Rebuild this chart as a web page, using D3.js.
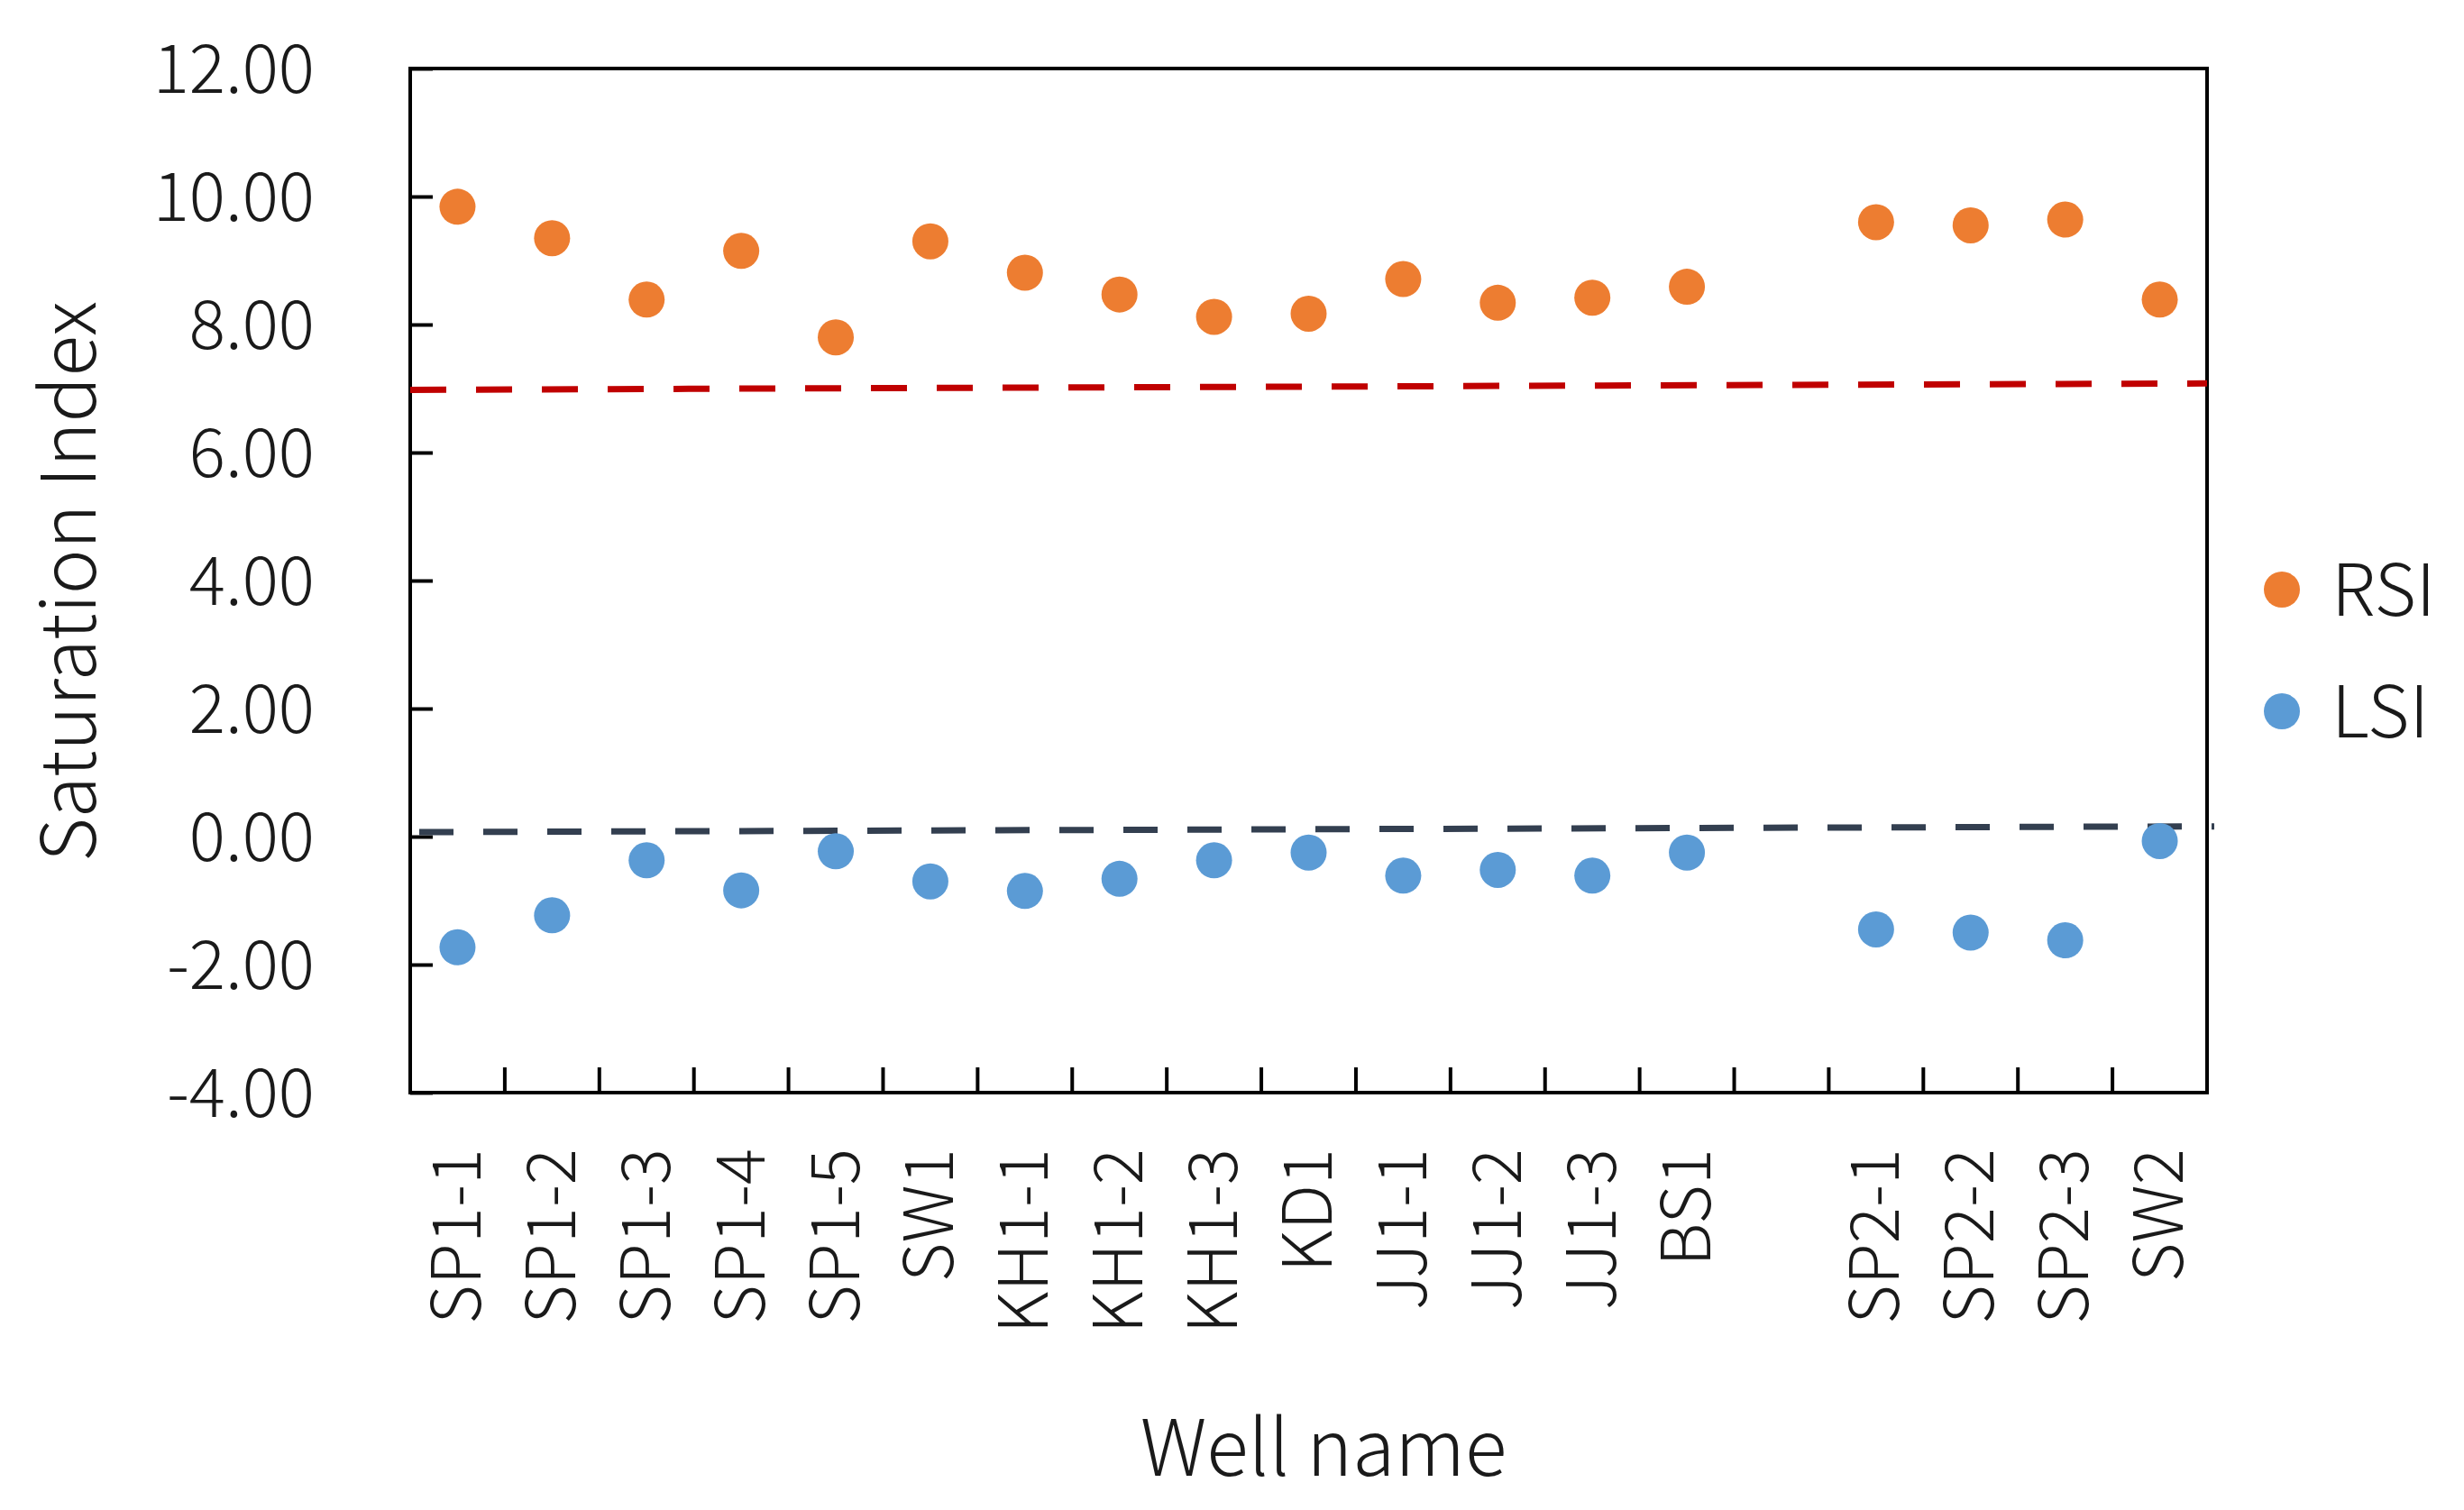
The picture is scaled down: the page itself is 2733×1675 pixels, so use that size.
<!DOCTYPE html>
<html><head><meta charset="utf-8">
<script src="https://cdn.jsdelivr.net/npm/d3@7"></script>
<style>html,body{margin:0;padding:0;background:#fff;}svg{display:block;}</style>
</head><body>
<script>
const categories = ["SP1-1","SP1-2","SP1-3","SP1-4","SP1-5","SW1","KH1-1","KH1-2","KH1-3","KD1","JJ1-1","JJ1-2","JJ1-3","BS1","","SP2-1","SP2-2","SP2-3","SW2"];
const rsi = [9.84,9.35,8.39,9.15,7.80,9.30,8.81,8.47,8.12,8.17,8.71,8.34,8.42,8.59,null,9.60,9.55,9.64,8.39];
const lsi = [-1.73,-1.23,-0.37,-0.84,-0.23,-0.70,-0.85,-0.66,-0.37,-0.25,-0.61,-0.52,-0.61,-0.25,null,-1.45,-1.50,-1.62,-0.07];
const yTicks = [-4,-2,0,2,4,6,8,10,12];
const rsiRef = [6.98, 7.08];   // left, right
const lsiRef = [0.07, 0.16];
const seriesNames = ["RSI","LSI"];
const colors = ["#ED7D31","#5B9BD5"];

const W = 2733, H = 1675;
const L = 455, R = 2448, T = 76, B = 1212;
const font = "'Noto Sans CJK KR','Noto Sans',sans-serif";
const fw = 300;

const svg = d3.select("body").append("svg").attr("width", W).attr("height", H)
  .style("font-family", font).style("font-weight", fw);

const x = d3.scaleBand().domain(categories).range([L, R]).paddingInner(0).paddingOuter(0);
const y = d3.scaleLinear().domain([-4, 12]).range([B, T]);

// plot frame
svg.append("rect").attr("x", L).attr("y", T).attr("width", R - L).attr("height", B - T)
  .attr("fill", "none").attr("stroke", "#000").attr("stroke-width", 4);

// y axis ticks (inward)
const yAxis = d3.axisRight(y).tickValues(yTicks).tickSize(25).tickFormat("");
const yg = svg.append("g").attr("transform", `translate(${L},0)`).call(yAxis);
yg.select(".domain").remove();
yg.selectAll("line").attr("stroke", "#000").attr("stroke-width", 4);

// y tick labels
svg.append("g").selectAll("text").data(yTicks).join("text")
  .attr("x", 349).attr("y", d => y(d)).attr("dy", "0.36em")
  .attr("text-anchor", "end").attr("font-size", 75).attr("fill", "#1a1a1a")
  .text(d => d.toFixed(2));

// x ticks at band boundaries (inward)
const bounds = categories.slice(1).map(c => x(c));
svg.append("g").selectAll("line").data(bounds).join("line")
  .attr("x1", d => d).attr("x2", d => d).attr("y1", B).attr("y2", B - 28)
  .attr("stroke", "#000").attr("stroke-width", 4);

// x labels
svg.append("g").selectAll("text").data(categories.filter(c => c !== "")).join("text")
  .attr("transform", d => `translate(${x(d) + x.bandwidth() / 2},1274) rotate(-90)`)
  .attr("dy", "0.34em").attr("text-anchor", "end").attr("font-size", 75).attr("fill", "#1a1a1a")
  .text(d => d);

// reference lines
svg.append("line").attr("x1", L).attr("x2", R).attr("y1", y(rsiRef[0])).attr("y2", y(rsiRef[1]))
  .attr("stroke", "#C00000").attr("stroke-width", 7).attr("stroke-dasharray", "40,33");
svg.append("line").attr("x1", L + 10).attr("x2", R + 8).attr("y1", y(lsiRef[0])).attr("y2", y(lsiRef[1]))
  .attr("stroke", "#333F50").attr("stroke-width", 7).attr("stroke-dasharray", "38,33");

// points
[rsi, lsi].forEach((vals, i) => {
  svg.append("g").selectAll("circle")
    .data(categories.map((c, j) => ({c, v: vals[j]})).filter(d => d.v !== null))
    .join("circle")
    .attr("cx", d => x(d.c) + x.bandwidth() / 2).attr("cy", d => y(d.v)).attr("r", 20)
    .attr("fill", colors[i]);
});

// legend
const lg = svg.append("g");
seriesNames.forEach((n, i) => {
  const cy = 654 + i * 135;
  lg.append("circle").attr("cx", 2531).attr("cy", cy).attr("r", 20).attr("fill", colors[i]);
  lg.append("text").attr("x", 2586).attr("y", cy).attr("dy", "0.36em")
    .attr("font-size", 80).attr("fill", "#1a1a1a").text(n);
});

// axis titles
svg.append("text").attr("x", 1468).attr("y", 1637).attr("text-anchor", "middle")
  .attr("font-size", 86).attr("fill", "#1a1a1a").text("Well name");
svg.append("text").attr("transform", "translate(106,645) rotate(-90)").attr("text-anchor", "middle")
  .attr("font-size", 84).attr("fill", "#1a1a1a").text("Saturation Index");
</script>
</body></html>
